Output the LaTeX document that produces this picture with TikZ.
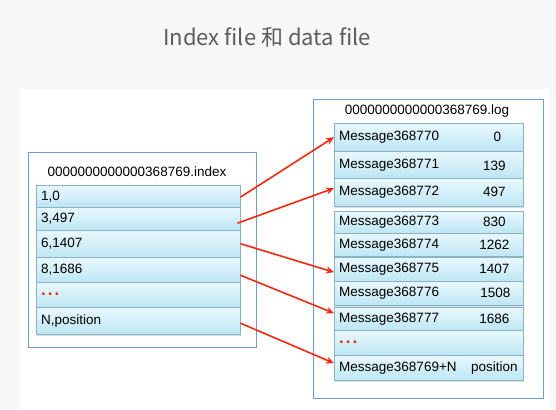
\documentclass[tikz,border=0pt]{standalone}
\usepackage{fontspec}
\setmainfont{Liberation Sans}
\newfontfamily\cjk{Noto Sans CJK SC}
\usetikzlibrary{arrows.meta,shadows}

\definecolor{pagegray}{HTML}{F7F7F7}
\definecolor{titlegray}{HTML}{5C5C5C}
\definecolor{boxblue}{HTML}{6E9DCD}
\definecolor{cellline}{HTML}{8AB4C6}
\definecolor{celltop}{HTML}{EAF8FD}
\definecolor{cellbottom}{HTML}{BDE6F4}
\definecolor{linkred}{HTML}{F4290E}

\newcommand{\moredots}{\textcolor{linkred}{\fontsize{17}{16}\selectfont\textbf{.\hspace{2pt}.\hspace{2pt}.}}}

\tikzset{
  body/.style={font=\fontsize{13.5}{16}\selectfont},
  cell/.style={body, draw=cellline, top color=celltop, bottom color=cellbottom,
    anchor=north west, inner xsep=5pt, inner ysep=0pt, align=left,
    drop shadow={shadow xshift=0.8pt, shadow yshift=-1.5pt, opacity=0.25}},
  idxcell/.style={cell, text width=194pt},
  logcell/.style={cell, text width=179pt},
  value/.style={body, anchor=center},
  filebox/.style={draw=boxblue, line width=0.9pt, fill=white, anchor=north west,
    drop shadow={shadow xshift=0.8pt, shadow yshift=-0.8pt, opacity=0.15}},
  link/.style={draw=linkred, line width=1.6pt, -{Stealth[length=8pt,width=7pt]}}
}

\begin{document}
\begin{tikzpicture}[x=1pt,y=-1pt]
  \useasboundingbox (0,0) rectangle (556,409);
  \fill[pagegray] (0,0) rectangle (556,409);
  \fill[white] (20,89) rectangle (550,409);

  \node[font=\cjk\fontsize{22}{26}\selectfont, text=titlegray] (title) at (267,37) {Index file 和 data file};

  % index file
  \node[filebox, minimum width=228pt, minimum height=195pt] (idxfile) at (28,152) {};
  \node[body] (idxname) at (137,172) {0000000000000368769.index};
  \node[idxcell, minimum height=22pt] (i1) at (36,185) {1,0};
  \node[idxcell, minimum height=23pt] (i2) at (36,207) {3,497};
  \node[idxcell, minimum height=27pt] (i3) at (36,230) {6,1407};
  \node[idxcell, minimum height=25pt] (i4) at (36,257) {8,1686};
  \node[idxcell, minimum height=25pt] (i5) at (36,282) {\moredots};
  \node[idxcell, minimum height=27pt] (i6) at (36,307) {N,position};

  % log file
  \node[filebox, minimum width=230pt, minimum height=299pt] (logfile) at (313,99) {};
  \node[body] (logname) at (427,111) {0000000000000368769.log};
  \node[logcell, minimum height=28pt] (m0) at (334,123) {Message368770};
  \node[logcell, minimum height=27pt] (m1) at (334,151) {Message368771};
  \node[logcell, minimum height=28pt] (m2) at (334,178) {Message368772};
  \node[logcell, minimum height=22pt] (m3) at (334,211) {Message368773};
  \node[logcell, minimum height=23pt] (m4) at (334,233) {Message368774};
  \node[logcell, minimum height=24pt] (m5) at (334,257) {Message368775};
  \node[logcell, minimum height=24pt] (m6) at (334,281) {Message368776};
  \node[logcell, minimum height=23pt] (m7) at (334,307) {Message368777};
  \node[logcell, minimum height=25pt] (m8) at (334,330) {\moredots};
  \node[logcell, minimum height=25pt] (m9) at (334,355) {Message368769+N};

  \node[value] (v0) at ([xshift=-26pt]m0.east) {0};
  \node[value] (v1) at ([xshift=-29pt,yshift=-1pt]m1.east) {139};
  \node[value] (v2) at ([xshift=-29pt]m2.east) {497};
  \node[value] (v3) at ([xshift=-29pt]m3.east) {830};
  \node[value] (v4) at ([xshift=-29pt]m4.east) {1262};
  \node[value] (v5) at ([xshift=-29pt]m5.east) {1407};
  \node[value] (v6) at ([xshift=-28pt]m6.east) {1508};
  \node[value] (v7) at ([xshift=-29pt]m7.east) {1686};
  \node[value] (v9) at ([xshift=-29pt]m9.east) {position};

  % offsets
  \draw[link] ([yshift=-1pt]i1.east) -- (m0.west);
  \draw[link] ([xshift=-3pt,yshift=-4.5pt]i2.east) -- ([yshift=4pt]m2.west);
  \draw[link] (i3.east) -- ([yshift=-3pt]m5.west);
  \draw[link] ([yshift=-5.5pt]i4.east) -- ([yshift=5.5pt]m7.west);
  \draw[link] ([yshift=-2.5pt]i6.east) -- ([yshift=4.5pt]m9.west);
\end{tikzpicture}
\end{document}
